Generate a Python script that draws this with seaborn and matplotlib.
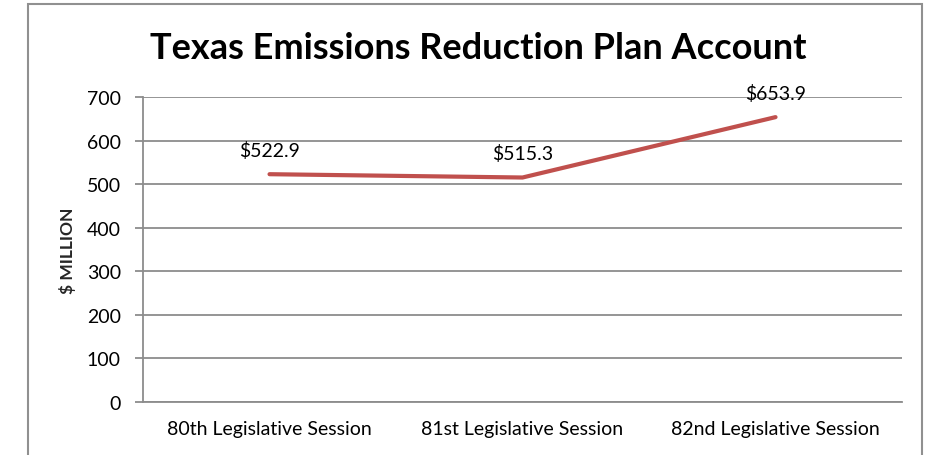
import seaborn as sns
import matplotlib.pyplot as plt
import matplotlib.patches as mpatches
import pandas as pd

# datos
sesiones = ['80th Legislative Session', '81st Legislative Session', '82nd Legislative Session']
montos = [522.9, 515.3, 653.9]
etiquetas = ['$522.9', '$515.3', '$653.9']

df = pd.DataFrame({'sesion': sesiones, 'monto': montos})

sns.set_style('white')
plt.rcParams['font.family'] = ['Lato', 'DejaVu Sans']
plt.rcParams['text.color'] = 'black'
plt.rcParams['xtick.color'] = 'black'
plt.rcParams['ytick.color'] = 'black'

gris = '#8c8c8c'
fig = plt.figure(figsize=(9.33, 4.56), dpi=100)
ax = fig.add_axes([0.1533, 0.1162, 0.8135, 0.6688])

sns.lineplot(x='sesion', y='monto', data=df, color='#C0504D', linewidth=3, ax=ax)

# etiquetas de datos arriba de cada punto
for i, (v, t) in enumerate(zip(montos, etiquetas)):
    ax.annotate(t, (i, v), xytext=(0, 11), textcoords='offset points',
                ha='center', va='bottom', fontsize=14)

ax.set_xlim(-0.5, 2.5)
ax.set_ylim(0, 700)
ax.set_yticks(range(0, 701, 100))
ax.yaxis.grid(True, color=gris, linewidth=1.3)
ax.set_axisbelow(True)
ax.set_xticks([0, 1, 2])
ax.set_xticks([-0.5, 0.5, 1.5, 2.5], minor=True)
ax.tick_params(axis='x', which='major', length=0, labelsize=14, pad=13)
ax.tick_params(axis='x', which='minor', length=5, color=gris, width=1.3, direction='out')
ax.tick_params(axis='y', length=6, color=gris, width=1.3, direction='out', labelsize=14, pad=10)
ax.tick_params(axis='both', left=True, bottom=True)
for s in ['top', 'right']:
    ax.spines[s].set_visible(False)
for s in ['left', 'bottom']:
    ax.spines[s].set_color(gris)
    ax.spines[s].set_linewidth(1.3)

ax.set_xlabel('')
ax.set_ylabel('$ MILLION', fontsize=12.5, fontweight='bold', labelpad=8)
fig.text(0.513, 0.893, 'Texas Emissions Reduction Plan Account',
         ha='center', va='center', fontsize=26, fontweight='bold')

# marco exterior del grafico
fig.patches.append(mpatches.Rectangle((28 / 933, -0.05), (922 - 28) / 933, 1.04,
                                      transform=fig.transFigure, fill=False,
                                      edgecolor='#909090', linewidth=1.5))

plt.savefig('out.png', dpi=100)
